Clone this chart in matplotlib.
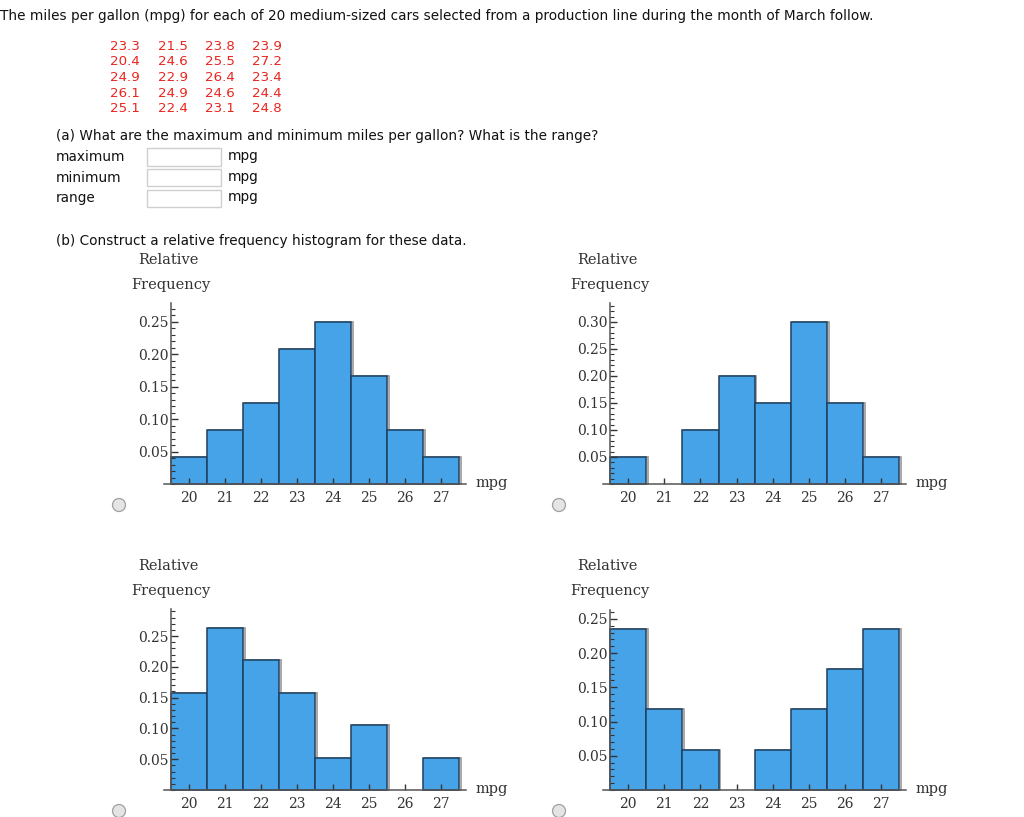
import matplotlib
matplotlib.use("Agg")
import matplotlib.pyplot as plt
from matplotlib.patches import Rectangle, Ellipse
from matplotlib.ticker import MultipleLocator

W, H = 1024, 817

# ---------------- data ----------------
title = ("The miles per gallon (mpg) for each of 20 medium-sized cars selected "
         "from a production line during the month of March follow.")
data_rows = [
    ["23.3", "21.5", "23.8", "23.9"],
    ["20.4", "24.6", "25.5", "27.2"],
    ["24.9", "22.9", "26.4", "23.4"],
    ["26.1", "24.9", "24.6", "24.4"],
    ["25.1", "22.4", "23.1", "24.8"],
]
bins = [20, 21, 22, 23, 24, 25, 26, 27]
freq_a = [1/24, 2/24, 3/24, 5/24, 6/24, 4/24, 2/24, 1/24]
freq_b = [0.05, 0.0, 0.10, 0.20, 0.15, 0.30, 0.15, 0.05]
freq_c = [3/19, 5/19, 4/19, 3/19, 1/19, 2/19, 0.0, 1/19]
freq_d = [4/17, 2/17, 1/17, 0.0, 1/17, 2/17, 3/17, 4/17]
ytop = [0.279, 0.335, 0.294, 0.263]
ytick_vals = [0.05, 0.10, 0.15, 0.20, 0.25, 0.30]

fig = plt.figure(figsize=(W/100, H/100), dpi=100)
fig.patch.set_facecolor("white")

def fx(x): return x / W
def fy(y): return 1 - y / H

sans = "DejaVu Sans"
serif = "DejaVu Serif"
TXT = 9.85

fig.text(fx(0), fy(16), title, fontsize=TXT, family=sans, va="center", ha="left", color="#111111")
colx = [110, 158, 205, 252]
for i, row in enumerate(data_rows):
    for j, v in enumerate(row):
        fig.text(fx(colx[j]), fy(46 + i*15.7), v, fontsize=9.6, family=sans,
                 va="center", ha="left", color="#e8251f")

fig.text(fx(56), fy(136), "(a) What are the maximum and minimum miles per gallon? What is the range?",
         fontsize=TXT, family=sans, va="center", ha="left", color="#111111")
for k, lab in enumerate(["maximum", "minimum", "range"]):
    yc = 157 + k*20.7
    fig.text(fx(56), fy(yc), lab, fontsize=TXT, family=sans, va="center", ha="left", color="#111111")
    fig.patches.append(Rectangle((fx(147), fy(yc+8.5)), fx(74), 17/H, transform=fig.transFigure,
                                 facecolor="white", edgecolor="#cfcfcf", linewidth=1))
    fig.text(fx(228), fy(yc-1), "mpg", fontsize=TXT, family=sans, va="center", ha="left", color="#111111")
fig.text(fx(56), fy(241), "(b) Construct a relative frequency histogram for these data.",
         fontsize=TXT, family=sans, va="center", ha="left", color="#111111")

# ---------------- histograms ----------------
panels = [
    (freq_a, 164, 484, 303, ytop[0], 36.0),
    (freq_b, 603, 484, 303, ytop[1], 36.1),
    (freq_c, 164, 790, 609, ytop[2], 36.0),
    (freq_d, 603, 790, 610, ytop[3], 36.1),
]
for freqs, left, zero, top, yt, ppu in panels:
    xl, xr = 19.3, 27.7
    width_px = (xr - xl) * ppu
    height_px = zero - top
    ax = fig.add_axes([fx(left), fy(zero), width_px / W, height_px / H])
    ax.set_xlim(xl, xr)
    ax.set_ylim(0, yt)
    lws = [1.1 if f > 0 else 0 for f in freqs]
    ax.bar([b + 0.05 for b in bins], freqs, width=1.0, color="none",
           edgecolor="#9a9a9a", linewidth=[1.2 if f > 0 else 0 for f in freqs],
           zorder=1, clip_on=False)
    ax.bar(bins, freqs, width=1.0, color="#46a3e8", edgecolor="#1e3f5e",
           linewidth=lws, zorder=1.5, clip_on=False)
    for s in ["top", "right"]:
        ax.spines[s].set_visible(False)
    ax.spines["left"].set_position(("data", 19.5))
    for s in ["left", "bottom"]:
        ax.spines[s].set_color("#555555")
        ax.spines[s].set_linewidth(1.1)
    ax.set_xticks(bins)
    ax.set_xticklabels([str(b) for b in bins])
    yv = [v for v in ytick_vals if v <= yt]
    ax.set_yticks(yv)
    ax.set_yticklabels(["%.2f" % v for v in yv])
    ax.yaxis.set_minor_locator(MultipleLocator(0.01))
    ax.tick_params(axis="y", which="major", direction="in", length=5, width=1,
                   color="#333333", labelsize=10, labelcolor="#333333", pad=2)
    ax.tick_params(axis="y", which="minor", direction="in", length=3, width=0.8, color="#333333")
    ax.tick_params(axis="x", which="major", direction="in", length=4, width=1,
                   color="#333333", labelsize=10, labelcolor="#333333", pad=5)
    for lab in ax.get_xticklabels() + ax.get_yticklabels():
        lab.set_family(serif)
    ax.patch.set_alpha(0)

    ax_left_px = left + (19.5 - xl) * ppu
    fig.text(fx(ax_left_px - 3), fy(zero - 224), "Relative",
             fontsize=10.5, family=serif, ha="center", va="center", color="#333333")
    fig.text(fx(ax_left_px), fy(zero - 199), "Frequency",
             fontsize=10.5, family=serif, ha="center", va="center", color="#333333")
    fig.text(fx(left + width_px + 25), fy(zero - 1), "mpg", fontsize=10.5, family=serif,
             ha="center", va="center", color="#333333")
    # radio button
    cx = 119 if left < 400 else 559
    cy = zero + 21
    fig.patches.append(Ellipse((fx(cx), fy(cy)), 13/W, 13/H, transform=fig.transFigure,
                               facecolor="#e4e4e4", edgecolor="#a0a0a0", linewidth=0.9))

fig.savefig("out.png", dpi=100)
